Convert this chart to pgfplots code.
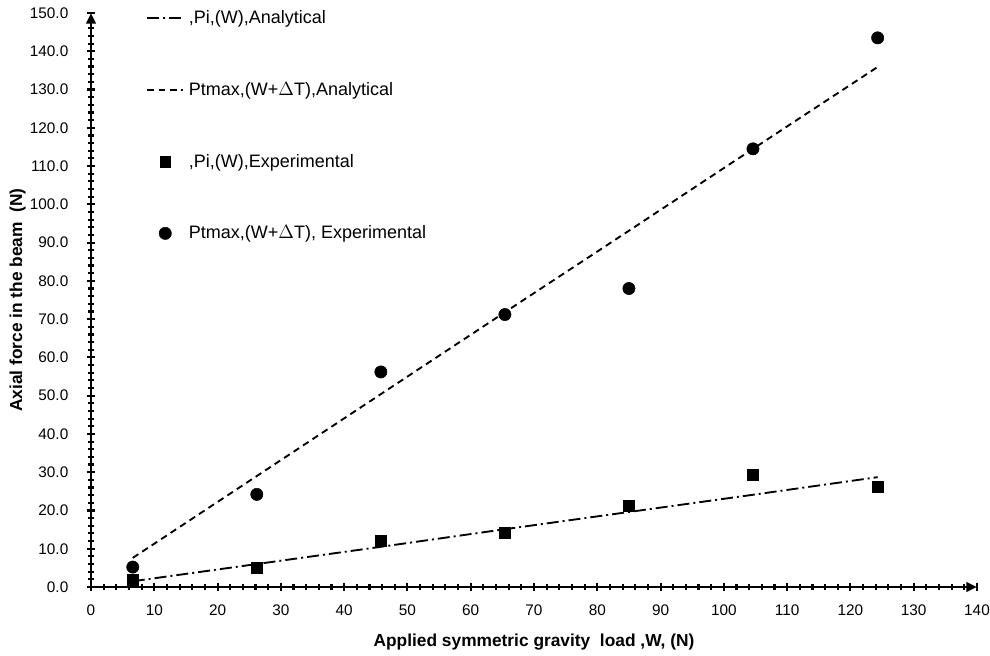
\documentclass[border=0pt]{standalone}
\usepackage{fontspec}
\setmainfont{Liberation Sans}
\usepackage{pgfplots}
\pgfplotsset{compat=1.18}
\usetikzlibrary{arrows.meta}
\begin{document}
\begin{tikzpicture}
\begin{axis}[
  scale only axis,
  width=664.5pt, height=430.5pt,
  xmin=0, xmax=140, ymin=0, ymax=150,
  axis lines=left,
  axis line style={line width=2.2pt, -{Triangle[length=8pt,width=7pt]}},
  xtick={0,10,...,140}, ytick={0,10,...,150},
  minor x tick num=4, minor y tick num=4,
  tick align=center,
  major tick length=6pt, minor tick length=3.8pt,
  every tick/.style={black, line width=1.6pt},
  /pgf/number format/assume math mode=true,
  yticklabel style={/pgf/number format/.cd, fixed, fixed zerofill, precision=1, /tikz/.cd, xshift=-10.5pt},
  xticklabel style={/pgf/number format/.cd, fixed, /tikz/.cd, yshift=-7pt},
  tick label style={font=\fontsize{11.5}{13}\selectfont},
  xlabel={\textbf{Applied symmetric gravity\ \ load ,W, (N)}},
  ylabel={\textbf{Axial force in the beam\ \ (N)}},
  label style={font=\fontsize{13}{15}\selectfont},
  xlabel style={at={(axis description cs:0.5,0)}, anchor=center, yshift=-41pt},
  ylabel style={at={(axis description cs:0,0.5)}, anchor=center, yshift=55pt},
  legend style={draw=none, fill=none, at={(axis cs:8.7,150)}, anchor=north west, yshift=4pt,
    font=\fontsize{13.5}{15}\selectfont, row sep=38.5pt, inner sep=0pt,
    /tikz/every odd column/.append style={column sep=1.5pt}},
  legend cell align=left,
  legend image code/.code={\draw[mark repeat=2, mark phase=2, #1] plot coordinates {(0pt,0pt) (13.5pt,0pt) (27pt,0pt)};},
  clip=false,
]
\addplot[black, line width=1.4pt, dash pattern=on 9pt off 3pt on 1.5pt off 3pt] coordinates {
 (6.6,1.5) (26.2,6.0) (45.8,10.5) (65.4,15.1) (85.0,19.6) (104.6,24.1) (124.3,28.7)};
\addlegendentry{,Pi,(W),Analytical}
\addplot[black, line width=1.4pt, dash pattern=on 5pt off 3.5pt] coordinates {
 (6.6,7.6) (26.2,29.0) (45.8,50.4) (65.4,71.8) (85.0,93.1) (104.6,114.5) (124.3,135.9)};
\addlegendentry{Ptmax,(W+$\Delta$T),Analytical}
\addplot[only marks, mark=square*, mark size=4.1pt, black] coordinates {
 (6.6,2.0) (26.2,5.0) (45.8,12.0) (65.4,14.1) (85.0,21.2) (104.6,29.3) (124.3,26.1)};
\addlegendentry{,Pi,(W),Experimental}
\addplot[only marks, mark=*, mark size=4.6pt, black] coordinates {
 (6.6,5.2) (26.2,24.2) (45.8,56.2) (65.4,71.2) (85.0,78.0) (104.6,114.5) (124.3,143.5)};
\addlegendentry{Ptmax,(W+$\Delta$T), Experimental}
\end{axis}
\pgfresetboundingbox
\path (-68.25pt,-51.75pt) rectangle (674.25pt,440.25pt);
\end{tikzpicture}
\end{document}
